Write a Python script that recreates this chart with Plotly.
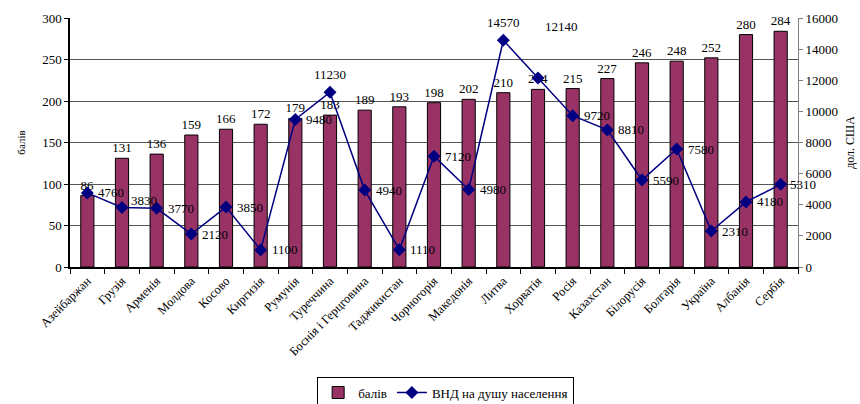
import plotly.graph_objects as go

# Країни, бали та ВНД на душу населення
countries = [
    "Азейбаржан", "Грузія", "Арменія", "Молдова", "Косово", "Киргизія",
    "Румунія", "Туреччина", "Боснія і Герцговина", "Таджикистан",
    "Чорногорія", "Македонія", "Литва", "Хорватія", "Росія", "Казахстан",
    "Білорусія", "Болгарія", "Україна", "Албанія", "Сербія",
]
scores = [86, 131, 136, 159, 166, 172, 179, 183, 189, 193, 198, 202,
          210, 214, 215, 227, 246, 248, 252, 280, 284]
gni = [4760, 3830, 3770, 2120, 3850, 1100, 9480, 11230, 4940, 1110, 7120,
       4980, 14570, 12140, 9720, 8810, 5590, 7580, 2310, 4180, 5310]

left_ticks = [0, 50, 100, 150, 200, 250, 300]
right_ticks = [0, 2000, 4000, 6000, 8000, 10000, 12000, 14000, 16000]

FONT = "Times New Roman, Liberation Serif, DejaVu Serif, serif"
BAR_COLOR = "#993366"
LINE_COLOR = "#000080"

# placement of the line value labels (pixel offsets from the marker)
label_style = {
    "Туреччина": dict(xanchor="center", yanchor="bottom", xshift=0, yshift=8),
    "Литва": dict(xanchor="center", yanchor="bottom", xshift=0, yshift=8),
    "Хорватія": dict(xanchor="left", yanchor="bottom", xshift=5, yshift=42),
    "Грузія": dict(xanchor="left", yanchor="middle", xshift=7, yshift=7),
    "Сербія": dict(xanchor="left", yanchor="middle", xshift=7, yshift=0),
}
default_style = dict(xanchor="left", yanchor="middle", xshift=9, yshift=0)

fig = go.Figure()

fig.add_trace(go.Bar(
    x=countries, y=scores, name="балів",
    marker=dict(color=BAR_COLOR, line=dict(color="black", width=1)),
    width=0.38,
    text=[str(v) for v in scores], textposition="outside",
    textfont=dict(family=FONT, size=13, color="black"),
    constraintext="none", cliponaxis=False,
    yaxis="y",
))

fig.add_trace(go.Scatter(
    x=countries, y=gni, name="ВНД на душу населення",
    mode="lines+markers",
    line=dict(color=LINE_COLOR, width=1.5),
    marker=dict(symbol="diamond", size=10, color=LINE_COLOR),
    yaxis="y2", cliponaxis=False,
))

for c, v in zip(countries, gni):
    st = label_style.get(c, default_style)
    fig.add_annotation(
        x=c, y=v, xref="x", yref="y2", text=str(v), showarrow=False,
        font=dict(family=FONT, size=13, color="black"), **st,
    )

fig.update_layout(
    width=860, height=404,
    margin=dict(l=70, r=62, t=18, b=137, autoexpand=False),
    paper_bgcolor="white", plot_bgcolor="white",
    font=dict(family=FONT, size=13, color="black"),
    showlegend=True,
    legend=dict(
        orientation="h", x=0.516, xanchor="center", y=-0.44, yanchor="top",
        bordercolor="black", borderwidth=1,
        font=dict(family=FONT, size=13),
        itemwidth=30, tracegroupgap=0,
    ),
    xaxis=dict(
        type="category", range=[-0.5, len(countries) - 0.5],
        tickangle=-45, automargin=False,
        ticks="outside", tickson="boundaries", ticklen=5, tickcolor="black",
        showline=True, linecolor="black", linewidth=1.5,
        tickfont=dict(family=FONT, size=12.5),
        showgrid=False,
    ),
    yaxis=dict(
        range=[0, 300], tickvals=left_ticks, automargin=False,
        ticks="outside", ticklen=4, tickcolor="black",
        showline=True, linecolor="black", linewidth=1.5,
        showgrid=True, gridcolor="#555555", gridwidth=1,
        zeroline=False,
        tickfont=dict(family=FONT, size=13),
        title=dict(text="балів", font=dict(family=FONT, size=11), standoff=14),
    ),
    yaxis2=dict(
        range=[0, 16000], tickvals=right_ticks, tickformat="d",
        overlaying="y", side="right", automargin=False,
        ticks="outside", ticklen=4, tickcolor="#808080",
        showline=True, linecolor="#808080", linewidth=1,
        showgrid=False, zeroline=False,
        tickfont=dict(family=FONT, size=13),
        title=dict(text="дол. США", font=dict(family=FONT, size=12), standoff=8),
    ),
)

fig.write_html("out.html")
